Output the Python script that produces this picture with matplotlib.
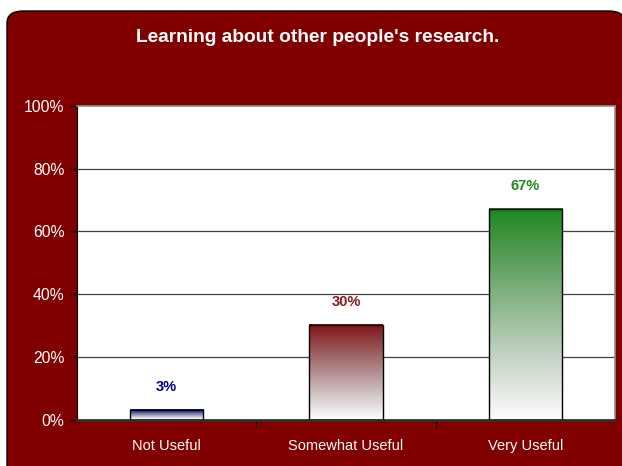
import matplotlib
matplotlib.use("Agg")
import matplotlib.pyplot as plt
import numpy as np
from matplotlib.patches import FancyBboxPatch
from matplotlib.colors import to_rgb

plt.rcParams['font.family'] = ['Liberation Sans', 'DejaVu Sans']

categories = ['Not Useful', 'Somewhat Useful', 'Very Useful']
values = [3, 30, 67]
value_labels = ['3%', '30%', '67%']
bar_colors = ['#000080', '#7f1416', '#1e871e']
label_colors = ['#000080', '#8b1a1a', '#1e8c1e']
yticks = [0, 20, 40, 60, 80, 100]
ytick_labels = ['0%', '20%', '40%', '60%', '80%', '100%']
title = "Learning about other people's research."


def fade(color, n=256):
    """Vertical ramp from the bar colour (top) to near-white (base), greying out midway."""
    top = np.array(to_rgb(color))
    white = np.array([0.99, 0.99, 0.99])
    t = np.linspace(0, 1, n)[:, None]
    lin = top * (1 - t) + white * t
    lum = (lin @ np.array([0.299, 0.587, 0.114]))[:, None]
    out = lum + (lin - lum) * np.sqrt(1 - t)
    return np.clip(out, 0, 1)[:, None, :]


W, H = 622, 466
fig = plt.figure(figsize=(W / 100, H / 100), dpi=100)
fig.patch.set_facecolor('white')

# dark red panel with rounded corners, kept behind the axes
panel = FancyBboxPatch((7 / W, -20 / H), 618 / W, (H - 11 + 20) / H,
                       boxstyle='round,pad=0,rounding_size=0.026',
                       transform=fig.transFigure, facecolor='#800000',
                       edgecolor='black', linewidth=1.0, zorder=-10)
fig.patches.append(panel)

fig.text(318 / W, 1 - 38 / H, title, color='white', fontsize=13.8,
         fontweight='bold', ha='center', va='center')

ax = fig.add_axes([77 / W, (H - 419.5) / H, 538 / W, 313.5 / H])
ax.set_zorder(5)
ax.set_facecolor('white')

for y in yticks[1:-1]:
    ax.axhline(y, color='#404040', linewidth=0.9, zorder=1)

width = 0.41
for i, (v, c) in enumerate(zip(values, bar_colors)):
    ax.imshow(fade(c), extent=[i - width / 2, i + width / 2, 0, v],
              aspect='auto', zorder=2, interpolation='bilinear')
    ax.bar(i, v, width=width, facecolor='none', edgecolor='black',
           linewidth=1.0, zorder=3)
    ax.annotate(value_labels[i], (i, v), xytext=(0, 11.5),
                textcoords='offset points', ha='center', va='bottom',
                fontsize=10.5, fontweight='bold', color=label_colors[i])

ax.set_xlim(-0.5, 2.5)
ax.set_ylim(0, 100)

ax.set_yticks(yticks)
ax.set_yticklabels(ytick_labels, color='white', fontsize=11.3)
ax.tick_params(axis='y', direction='out', length=5, width=1, color='black', pad=4)

ax.set_xticks(range(len(categories)))
ax.set_xticklabels(categories, color='white', fontsize=10.5)
ax.tick_params(axis='x', which='major', length=0, pad=14)
ax.set_xticks([0.5, 1.5], minor=True)
ax.tick_params(axis='x', which='minor', direction='out', length=5, width=1, color='black')

ax.spines['left'].set_color('black')
ax.spines['bottom'].set_color('#303030')
ax.spines['bottom'].set_linewidth(2)
ax.spines['top'].set_color('#909090')
ax.spines['right'].set_color('#909090')
ax.spines['top'].set_linewidth(1.2)
ax.spines['right'].set_linewidth(1.2)

fig.savefig('out.png', dpi=100, facecolor=fig.get_facecolor())
